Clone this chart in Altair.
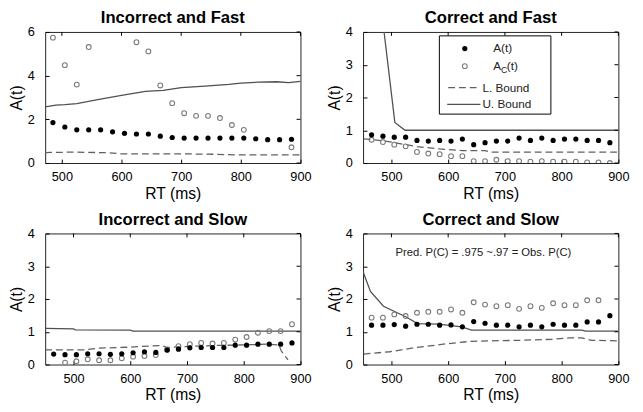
import altair as alt
import pandas as pd

FONT = "Liberation Sans"
W, H = 261, 134

# ---------------- data ----------------
# Incorrect and Fast
if_x = [485, 505, 525, 545, 565, 585, 605, 625, 645, 665, 685, 705, 725, 745, 765, 785, 805, 825, 845, 865, 885]
if_a = [1.85, 1.65, 1.52, 1.52, 1.52, 1.43, 1.36, 1.33, 1.33, 1.23, 1.17, 1.14, 1.14, 1.14, 1.14, 1.14, 1.14, 1.11, 1.07, 1.07, 1.09]
if_ac = [5.74, 4.48, 3.59, 5.31, None, None, None, 5.53, 5.11, 3.55, 2.74, 2.28, 2.16, 2.16, 2.06, 1.74, 1.52, None, None, None, 0.72]
if_ub_x = [472, 490, 505, 525, 560, 600, 640, 670, 700, 740, 780, 800, 830, 860, 880, 900]
if_ub_y = [2.57, 2.65, 2.67, 2.72, 2.90, 3.10, 3.28, 3.33, 3.45, 3.52, 3.60, 3.66, 3.70, 3.72, 3.68, 3.74]
if_lb_x = [472, 520, 580, 600, 700, 760, 790, 900]
if_lb_y = [0.48, 0.50, 0.47, 0.42, 0.42, 0.40, 0.37, 0.37]

# Correct and Fast
cf_x = [465, 485, 505, 525, 545, 565, 585, 605, 625, 645, 665, 685, 705, 725, 745, 765, 785, 805, 825, 845, 865, 885]
cf_a = [0.86, 0.82, 0.79, 0.79, 0.69, 0.67, 0.69, 0.67, 0.73, 0.56, 0.62, 0.67, 0.67, 0.76, 0.69, 0.76, 0.69, 0.73, 0.73, 0.69, 0.69, 0.62]
cf_ac = [0.71, 0.64, 0.56, 0.51, 0.34, 0.29, 0.27, 0.21, 0.21, 0.06, 0.06, 0.10, 0.06, 0.06, 0.04, 0.06, 0.04, 0.04, 0.04, 0.02, 0.02, 0.0]
cf_ub_x = [487, 506, 524, 900]
cf_ub_y = [4.0, 1.24, 1.0, 1.0]
cf_lb_x = [451, 485, 506, 545, 585, 625, 665, 675, 900]
cf_lb_y = [0.74, 0.68, 0.62, 0.50, 0.43, 0.38, 0.38, 0.33, 0.33]

# Incorrect and Slow
is_x = [465, 485, 505, 525, 545, 565, 585, 605, 625, 645, 665, 685, 705, 725, 745, 765, 785, 805, 825, 845, 865, 885]
is_a = [0.32, 0.30, 0.30, 0.33, 0.33, 0.31, 0.33, 0.36, 0.39, 0.37, 0.44, 0.47, 0.51, 0.52, 0.52, 0.52, 0.59, 0.59, 0.62, 0.62, 0.62, 0.66]
is_ac = [None, 0.06, 0.10, 0.16, 0.13, 0.13, 0.19, 0.24, 0.26, 0.29, 0.45, 0.56, 0.62, 0.66, 0.64, 0.66, 0.76, 0.84, 0.97, 1.02, 1.02, 1.23]
is_ub_x = [450, 500, 503, 600, 605, 900]
is_ub_y = [1.10, 1.09, 1.06, 1.05, 1.02, 1.02]
is_lb_x = [450, 520, 545, 600, 640, 655, 665, 700, 750, 800, 840, 862, 866, 878]
is_lb_y = [0.45, 0.45, 0.50, 0.53, 0.57, 0.58, 0.52, 0.55, 0.58, 0.60, 0.62, 0.60, 0.42, 0.14]

# Correct and Slow
cs_x = [465, 485, 505, 525, 545, 565, 585, 605, 625, 645, 665, 685, 705, 725, 745, 765, 785, 805, 825, 845, 865, 885]
cs_a = [1.20, 1.20, 1.22, 1.17, 1.23, 1.23, 1.20, 1.21, 1.15, 1.31, 1.26, 1.20, 1.20, 1.15, 1.20, 1.15, 1.23, 1.20, 1.20, 1.30, 1.30, 1.49]
cs_ac = [1.43, 1.43, 1.53, 1.48, 1.58, 1.61, 1.61, 1.68, 1.58, 1.90, 1.83, 1.78, 1.81, 1.70, 1.78, 1.73, 1.87, 1.81, 1.81, 1.96, 1.96, None]
cs_ub_x = [450, 463, 486, 526, 546, 583, 624, 641, 836, 842, 900]
cs_ub_y = [2.83, 2.23, 1.78, 1.45, 1.25, 1.23, 1.15, 1.05, 1.05, 1.02, 1.02]
cs_lb_x = [451, 497, 543, 601, 641, 727, 784, 813, 836, 853, 900]
cs_lb_y = [0.32, 0.39, 0.52, 0.64, 0.71, 0.74, 0.77, 0.81, 0.81, 0.74, 0.72]

x_ticks = [500, 600, 700, 800, 900]
annotation = "Pred. P(C) = .975 ~.97 = Obs. P(C)"


def df(xs, ys):
    pairs = [(x, y) for x, y in zip(xs, ys) if y is not None]
    return pd.DataFrame({"rt": [p[0] for p in pairs], "a": [p[1] for p in pairs]})


def panel(title, xdom, ydom, yvals, xs, a, ac, ubx, uby, lbx, lby, extras=()):
    xsc = alt.Scale(domain=xdom, nice=False, zero=False)
    ysc = alt.Scale(domain=ydom, nice=False, zero=False)
    xax = alt.Axis(values=x_ticks, title="RT (ms)", grid=False, domain=False, offset=-4,
                   tickSize=4, labelPadding=8, titlePadding=2, format="d",
                   labelFlush=False, labelOverlap=False)
    yax = alt.Axis(values=yvals, title="A(t)", grid=False, domain=False, offset=-4,
                   tickSize=4, labelPadding=11, titlePadding=3, format="d",
                   labelFlush=False, labelOverlap=False, tickCount=len(yvals))
    X = alt.X("rt:Q", scale=xsc, axis=xax)
    Y = alt.Y("a:Q", scale=ysc, axis=yax)

    ub = alt.Chart(df(ubx, uby)).mark_line(color="#505050", strokeWidth=1.3, clip=True).encode(x=X, y=Y)
    lb = alt.Chart(df(lbx, lby)).mark_line(color="#606060", strokeWidth=1.3, strokeDash=[7, 4],
                                           clip=True).encode(x=X, y=Y)
    oc = alt.Chart(df(xs, ac)).mark_point(shape="circle", filled=False, size=24, strokeWidth=1.1,
                                          color="#7a7a7a", opacity=1, clip=True).encode(x=X, y=Y)
    fd = alt.Chart(df(xs, a)).mark_circle(size=28, color="black", opacity=1, clip=True).encode(x=X, y=Y)
    top_t = alt.Chart(pd.DataFrame({"rt": x_ticks})).mark_rule(color="black").encode(
        x=X, y=alt.value(0), y2=alt.value(4))
    right_t = alt.Chart(pd.DataFrame({"a": yvals})).mark_rule(color="black").encode(
        y=Y, x=alt.value(W - 4), x2=alt.value(W))
    layers = [ub, lb, oc, fd, top_t, right_t] + list(extras)
    return alt.layer(*layers).properties(
        width=W, height=H,
        title=alt.TitleParams(title, fontSize=17, font=FONT, fontWeight="bold", offset=-1,
                              anchor="middle", color="black"))


one = pd.DataFrame({"k": [0]})
legend = [
    alt.Chart(one).mark_rect(fill="white", stroke="black", strokeWidth=1).encode(
        x=alt.value(78), x2=alt.value(192), y=alt.value(4), y2=alt.value(84)),
    alt.Chart(one).mark_circle(size=28, color="black", opacity=1).encode(x=alt.value(104), y=alt.value(17)),
    alt.Chart(one).mark_point(shape="circle", filled=False, size=24, strokeWidth=1.1, color="#7a7a7a",
                              opacity=1).encode(x=alt.value(104), y=alt.value(35)),
    alt.Chart(one).mark_rule(color="#606060", strokeWidth=1.3, strokeDash=[7, 4]).encode(
        x=alt.value(87), x2=alt.value(120), y=alt.value(57)),
    alt.Chart(one).mark_rule(color="#505050", strokeWidth=1.3).encode(
        x=alt.value(86), x2=alt.value(120), y=alt.value(74)),
    alt.Chart(one).mark_text(text="A(t)", align="left", baseline="middle", fontSize=12, font=FONT,
                             color="#222").encode(x=alt.value(133), y=alt.value(17)),
    alt.Chart(one).mark_text(text="A", align="left", baseline="middle", fontSize=12, font=FONT,
                             color="#222").encode(x=alt.value(133), y=alt.value(35)),
    alt.Chart(one).mark_text(text="C", align="left", baseline="middle", fontSize=9, font=FONT,
                             color="#222").encode(x=alt.value(141), y=alt.value(39)),
    alt.Chart(one).mark_text(text="(t)", align="left", baseline="middle", fontSize=12, font=FONT,
                             color="#222").encode(x=alt.value(147), y=alt.value(35)),
    alt.Chart(one).mark_text(text="L. Bound", align="left", baseline="middle", fontSize=12, font=FONT,
                             color="#222").encode(x=alt.value(122), y=alt.value(57)),
    alt.Chart(one).mark_text(text="U. Bound", align="left", baseline="middle", fontSize=12, font=FONT,
                             color="#222").encode(x=alt.value(122), y=alt.value(74)),
]

note = [alt.Chart(one).mark_text(text=annotation, align="center", baseline="middle", fontSize=11.5,
                                 font=FONT, color="#222").encode(x=alt.value(123), y=alt.value(20))]

p1 = panel("Incorrect and Fast", [472, 900], [0, 6], [0, 2, 4, 6], if_x, if_a, if_ac,
           if_ub_x, if_ub_y, if_lb_x, if_lb_y)
p2 = panel("Correct and Fast", [450, 900], [0, 4], [0, 1, 2, 3, 4], cf_x, cf_a, cf_ac,
           cf_ub_x, cf_ub_y, cf_lb_x, cf_lb_y, legend)
p3 = panel("Incorrect and Slow", [450, 900], [0, 4], [0, 1, 2, 3, 4], is_x, is_a, is_ac,
           is_ub_x, is_ub_y, is_lb_x, is_lb_y)
p4 = panel("Correct and Slow", [450, 900], [0, 4], [0, 1, 2, 3, 4], cs_x, cs_a, cs_ac,
           cs_ub_x, cs_ub_y, cs_lb_x, cs_lb_y, note)

chart = alt.concat(p1, p2, p3, p4, columns=2, spacing={"row": 72, "column": 64},
                   bounds="flush").properties(
    padding={"left": 0, "top": -4, "right": 5, "bottom": 2},
    background="white",
).configure_view(stroke="#222", strokeWidth=1).configure_axis(
    labelFont=FONT, labelFontSize=13, labelColor="black",
    titleFont=FONT, titleFontSize=16, titleFontWeight="normal", titleColor="black",
    tickColor="black", tickWidth=1,
)

chart.save("out.html", embed_options={"renderer": "svg", "actions": False})
